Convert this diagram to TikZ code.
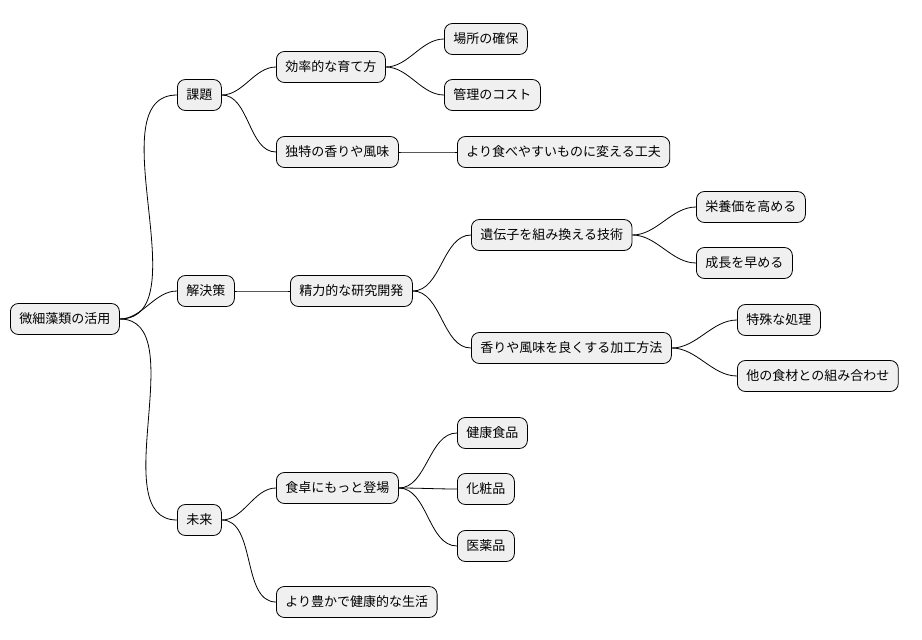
\documentclass[tikz,border=0pt]{standalone}
\usepackage{fontspec}
\setmainfont{Noto Sans CJK JP}
\begin{document}
\begin{tikzpicture}[x=1pt,y=-1pt,
  mm/.style={draw=black,fill=black!6,rounded corners=8pt,line width=0.8pt,minimum height=31pt,inner xsep=9pt,anchor=west,font=\fontsize{13}{15}\selectfont},
  ln/.style={line width=0.8pt,out=0,in=180,looseness=0.9}]
\useasboundingbox (0,0) rectangle (922,640);
\node[mm] (r) at (10,319) {微細藻類の活用};
\node[mm] (a) at (177,95) {課題};
\node[mm] (b) at (177,291) {解決策};
\node[mm] (c) at (177,520) {未来};
\node[mm] (a1) at (276,67) {効率的な育て方};
\node[mm] (a2) at (276,152) {独特の香りや風味};
\node[mm] (a11) at (444,39) {場所の確保};
\node[mm] (a12) at (444,95) {管理のコスト};
\node[mm] (a21) at (457,152) {より食べやすいものに変える工夫};
\node[mm] (b1) at (290,291) {精力的な研究開発};
\node[mm] (b11) at (471,235) {遺伝子を組み換える技術};
\node[mm] (b12) at (471,348) {香りや風味を良くする加工方法};
\node[mm] (b111) at (696,207) {栄養価を高める};
\node[mm] (b112) at (696,263) {成長を早める};
\node[mm] (b121) at (737,320) {特殊な処理};
\node[mm] (b122) at (737,376) {他の食材との組み合わせ};
\node[mm] (c1) at (276,488) {食卓にもっと登場};
\node[mm] (c11) at (457,433) {健康食品};
\node[mm] (c12) at (457,489) {化粧品};
\node[mm] (c13) at (457,546) {医薬品};
\node[mm] (c2) at (276,602) {より豊かで健康的な生活};
\foreach \p/\c in {r/a,r/b,r/c,a/a1,a/a2,a1/a11,a1/a12,a2/a21,b/b1,b1/b11,b1/b12,b11/b111,b11/b112,b12/b121,b12/b122,c/c1,c/c2,c1/c11,c1/c12,c1/c13}
  \draw[ln] (\p.east) to (\c.west);
\end{tikzpicture}
\end{document}
